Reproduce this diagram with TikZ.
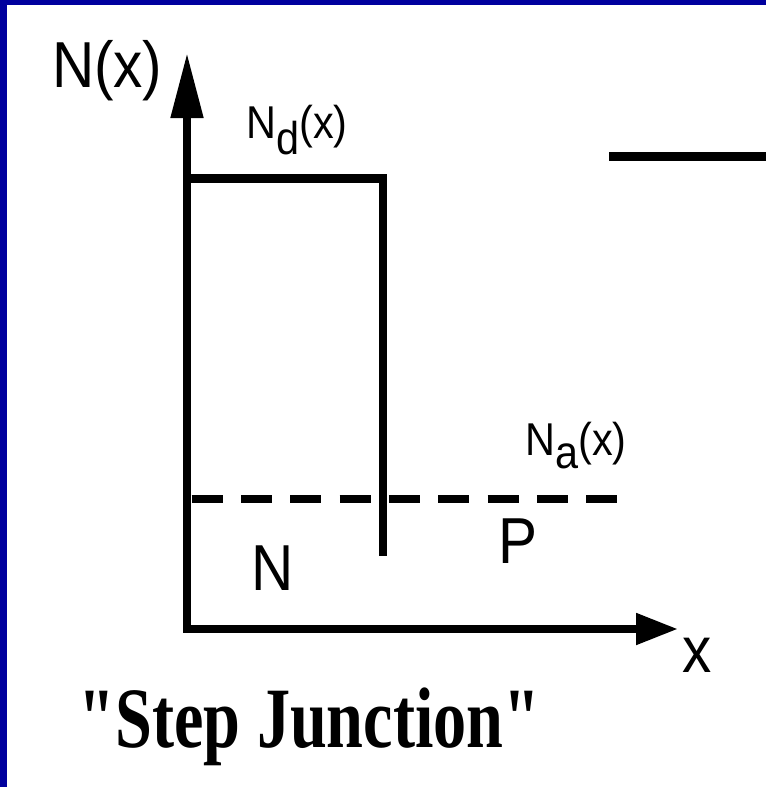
\documentclass[tikz,border=0pt]{standalone}
\usepackage{fontspec}
\usepackage{graphicx}
\setmainfont{Liberation Sans}
\newfontfamily\titlefont{Liberation Serif}
\usetikzlibrary{arrows.meta}
\definecolor{frameblue}{RGB}{0,0,158}
\tikzset{
  lab/.style={inner sep=0pt, outer sep=0pt, anchor=base west, font=\fontsize{32.5pt}{36pt}\selectfont},
  smalllab/.style={inner sep=0pt, outer sep=0pt, anchor=base west, font=\fontsize{23pt}{26pt}\selectfont},
  thick line/.style={line width=4.3pt, line cap=butt, line join=miter},
}
\begin{document}
\begin{tikzpicture}[x=0.5pt, y=-0.5pt]
  \useasboundingbox (0,0) rectangle (766,787);
  \fill[white] (0,0) rectangle (766,787);
  \fill[frameblue] (0,0) rectangle (7,787);
  \fill[frameblue] (0,0) rectangle (766,5);
  % axes
  \coordinate (ytip) at (187,53);
  \coordinate (origin) at (187,629);
  \coordinate (xtip) at (678,629);
  \draw[thick line, line width=4pt,
        {Triangle[length=32.5pt,width=15.5pt]}-{Triangle[length=21pt,width=15pt]}]
        (ytip) -- (origin) -- (xtip);
  % donor profile
  \coordinate (nd0) at (187,178.5);
  \coordinate (nd1) at (383,178.5);
  \coordinate (nd2) at (383,556);
  \draw[thick line] (nd0) -- (nd1) -- (nd2);
  % top-right segment
  \coordinate (tr0) at (609,156.5);
  \coordinate (tr1) at (766,156.5);
  \draw[thick line] (tr0) -- (tr1);
  % acceptor profile (dashed)
  \coordinate (na0) at (191.7,499);
  \coordinate (na1) at (621,499);
  \draw[line width=4pt, dash pattern=on 15.5pt off 9.15pt] (na0) -- (na1);
  % labels
  \node[lab] (Nx) at (52,87) {\scalebox{0.9}[1]{N(x)}};
  \node[smalllab] (Ndx) at (246.5,138) {\scalebox{0.9}[1]{N\raisebox{-8pt}{d}(x)}};
  \node[smalllab] (Nax) at (525.5,455) {\scalebox{0.9}[1]{N\raisebox{-6.5pt}{a}(x)}};
  \node[lab] (P) at (498,563) {\scalebox{0.9}[1]{P}};
  \node[lab] (N) at (251,590) {\scalebox{0.9}[1]{N}};
  \node[lab, anchor=base] (xl) at (697,672) {\scalebox{0.9}[1]{x}};
  \node[inner sep=0pt, anchor=base, font=\titlefont\bfseries\fontsize{43pt}{48pt}\selectfont] (title) at (309.5,747) {\scalebox{0.77}[1]{"Step Junction"}};
\end{tikzpicture}
\end{document}
